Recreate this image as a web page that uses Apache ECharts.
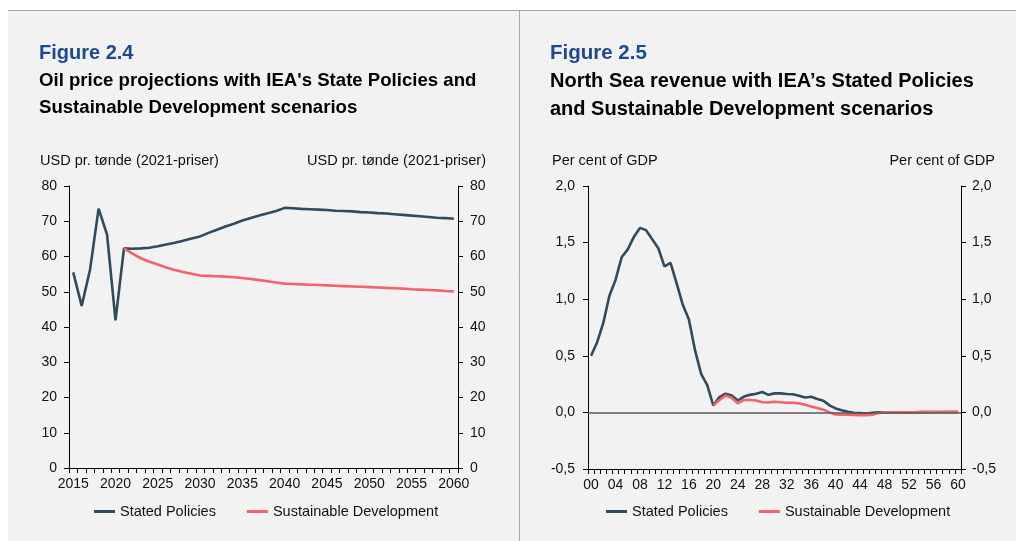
<!DOCTYPE html>
<html>
<head>
<meta charset="utf-8">
<script src="https://cdn.jsdelivr.net/npm/echarts@6/dist/echarts.min.js"></script>
<style>
html,body{margin:0;padding:0;background:#fff;}
#c{width:1016px;height:541px;}
</style>
</head>
<body>
<div id="c"></div>
<script>
// ---- Figure 2.4 data (oil price, USD per barrel, 2021 prices) ----
const oilYears = [];
for (let y = 2015; y <= 2060; y++) oilYears.push(String(y));
const oilStated = [55.5,46.0,56.4,73.6,66.2,41.9,62.3,62.2,62.3,62.5,62.9,63.4,63.9,64.5,65.1,65.7,66.7,67.6,68.5,69.3,70.2,70.9,71.6,72.3,72.9,73.8,73.7,73.5,73.4,73.3,73.2,73.0,72.9,72.8,72.6,72.5,72.3,72.2,72.0,71.8,71.6,71.4,71.2,71.0,70.9,70.7];
const oilSustainable = [null,null,null,null,null,null,62.3,60.8,59.5,58.5,57.7,56.9,56.2,55.6,55.1,54.6,54.5,54.4,54.3,54.1,53.9,53.6,53.3,53.0,52.6,52.3,52.2,52.1,52.0,51.9,51.8,51.7,51.6,51.5,51.4,51.3,51.2,51.1,51.0,50.9,50.7,50.6,50.5,50.4,50.2,50.1];
const oilTicks = [0,10,20,30,40,50,60,70,80];

// ---- Figure 2.5 data (North Sea revenue, per cent of GDP) ----
const revYears = [];
for (let y = 0; y <= 60; y++) revYears.push(String(y).padStart(2,'0'));
const revStated = [0.50,0.62,0.79,1.03,1.17,1.37,1.44,1.55,1.63,1.61,1.53,1.45,1.29,1.32,1.14,0.95,0.82,0.55,0.34,0.24,0.06,
  0.135,0.165,0.15,0.105,0.14,0.155,0.165,0.18,0.155,0.168,0.168,0.162,0.16,0.147,0.132,0.138,0.118,0.103,0.062,0.035,0.02,0.006,-0.003,-0.005,-0.01,-0.003,
  0,0,0,0,0,0,0,0.002,0.002,0.003,0.003,0.004,0.004,0.004];
const revSustainable = [null,null,null,null,null,null,null,null,null,null,null,null,null,null,null,null,null,null,null,null,
  0.06,0.11,0.15,0.13,0.08,0.11,0.11,0.105,0.09,0.088,0.094,0.09,0.085,0.085,0.08,0.068,0.053,0.038,0.024,0.0,-0.018,-0.02,-0.02,-0.022,-0.025,-0.025,-0.02,
  -0.005,0,0,0,0,0.001,0.001,0.002,0.003,0.003,0.004,0.004,0.005,0.005];
const revTicks = [-0.5,0,0.5,1.0,1.5,2.0];

const seriesNames = ['Stated Policies','Sustainable Development'];
const colStated = '#2f4b5e';
const colSust = '#f2636c';
const FONT = '"Liberation Sans", Arial, sans-serif';

const chart = echarts.init(document.getElementById('c'), null, {renderer:'canvas'});

function yAxisCommon(extra){
  return Object.assign({
    type:'value',
    axisLine:{show:true, lineStyle:{color:'#000', width:1}},
    axisTick:{show:true, inside:false, length:5, lineStyle:{color:'#000'}},
    splitLine:{show:false},
    axisLabel:{color:'#111', fontSize:14, fontFamily:FONT, margin:12}
  }, extra);
}
function xAxisCommon(extra){
  return Object.assign({
    type:'category',
    boundaryGap:true,
    axisLine:{show:true, onZero:false, lineStyle:{color:'#000', width:1}},
    axisTick:{show:true, interval:0, inside:false, length:5, alignWithLabel:false, lineStyle:{color:'#000'}},
    splitLine:{show:false},
    axisLabel:{color:'#111', fontSize:14, fontFamily:FONT, margin:9}
  }, extra);
}
const fmtComma = v => v.toFixed(1).replace('.', ',');

function txt(x, y, text, font, fill, align){
  return {type:'text', x:x, y:y, silent:true,
    style:{text:text, font:font, fill:fill||'#000', align:align||'left', verticalAlign:'middle'}};
}

const legendCommon = {itemWidth:21, itemHeight:3, itemGap:31, icon:'rect', padding:0,
  data:seriesNames, textStyle:{fontSize:14.5, fontFamily:FONT, color:'#111'}, selectedMode:false};

const option = {
  backgroundColor:'#fff',
  animation:false,
  graphic:[
    {type:'rect', shape:{x:8, y:10, width:1008, height:531}, style:{fill:'#f2f2f2'}, silent:true, z:-10},
    {type:'line', shape:{x1:8, y1:10.5, x2:1016, y2:10.5}, style:{stroke:'#a6a6a6', lineWidth:1}, silent:true, z:-5},
    {type:'line', shape:{x1:519.5, y1:10, x2:519.5, y2:541}, style:{stroke:'#a6a6a6', lineWidth:1}, silent:true, z:-5},
    txt(39, 53, 'Figure 2.4', 'bold 20px ' + FONT, '#1d4a8f'),
    txt(39, 81, "Oil price projections with IEA's State Policies and", 'bold 18.6px ' + FONT, '#000'),
    txt(39, 108, 'Sustainable Development scenarios', 'bold 18.6px ' + FONT, '#000'),
    txt(550, 53, 'Figure 2.5', 'bold 20.5px ' + FONT, '#1d4a8f'),
    txt(550, 81, 'North Sea revenue with IEA\u2019s Stated Policies', 'bold 20px ' + FONT, '#000'),
    txt(550, 109, 'and Sustainable Development scenarios', 'bold 20px ' + FONT, '#000'),
    txt(40, 161, 'USD pr. t\u00f8nde (2021-priser)', '14.5px ' + FONT, '#111'),
    txt(486, 161, 'USD pr. t\u00f8nde (2021-priser)', '14.5px ' + FONT, '#111', 'right'),
    txt(552, 161, 'Per cent of GDP', '14.5px ' + FONT, '#111'),
    txt(995, 161, 'Per cent of GDP', '14.5px ' + FONT, '#111', 'right')
  ],
  grid:[
    {left:69, top:186, width:389, height:282, containLabel:false, outerBoundsMode:'none'},
    {left:588, top:186, width:373, height:283, containLabel:false, outerBoundsMode:'none'}
  ],
  legend:[
    Object.assign({left:94, top:504}, legendCommon),
    Object.assign({left:606, top:504}, legendCommon)
  ],
  xAxis:[
    xAxisCommon({gridIndex:0, data:oilYears, axisLabel:{color:'#111', fontSize:14, fontFamily:FONT, margin:9, interval:4}}),
    xAxisCommon({gridIndex:1, data:revYears, axisLabel:{color:'#111', fontSize:14, fontFamily:FONT, margin:9, interval:3}})
  ],
  yAxis:[
    yAxisCommon({gridIndex:0, position:'left', min:oilTicks[0], max:oilTicks[oilTicks.length-1], interval:10}),
    yAxisCommon({gridIndex:0, position:'right', min:oilTicks[0], max:oilTicks[oilTicks.length-1], interval:10}),
    yAxisCommon({gridIndex:1, position:'left', min:revTicks[0], max:revTicks[revTicks.length-1], interval:0.5,
      axisLabel:{color:'#111', fontSize:14, fontFamily:FONT, margin:13, formatter:fmtComma}}),
    yAxisCommon({gridIndex:1, position:'right', min:revTicks[0], max:revTicks[revTicks.length-1], interval:0.5,
      axisLabel:{color:'#111', fontSize:14, fontFamily:FONT, margin:11, formatter:fmtComma}})
  ],
  series:[
    {name:seriesNames[0], type:'line', xAxisIndex:0, yAxisIndex:0, data:oilStated, symbol:'none',
     lineStyle:{color:colStated, width:2.6}, itemStyle:{color:colStated}, z:3},
    {name:seriesNames[1], type:'line', xAxisIndex:0, yAxisIndex:0, data:oilSustainable, symbol:'none',
     lineStyle:{color:colSust, width:2.6}, itemStyle:{color:colSust}, z:3},
    {name:'zero', type:'line', xAxisIndex:1, yAxisIndex:2, data:[], z:1,
     markLine:{silent:true, symbol:'none', label:{show:false}, animation:false,
       lineStyle:{color:'#5a5a5a', width:1.6, type:'solid'}, data:[{yAxis:0}]}},
    {name:seriesNames[0], type:'line', xAxisIndex:1, yAxisIndex:2, data:revStated, symbol:'none',
     lineStyle:{color:colStated, width:2.6}, itemStyle:{color:colStated}, z:3},
    {name:seriesNames[1], type:'line', xAxisIndex:1, yAxisIndex:2, data:revSustainable, symbol:'none',
     lineStyle:{color:colSust, width:2.6}, itemStyle:{color:colSust}, z:3}
  ]
};
chart.setOption(option);
</script>
</body>
</html>
